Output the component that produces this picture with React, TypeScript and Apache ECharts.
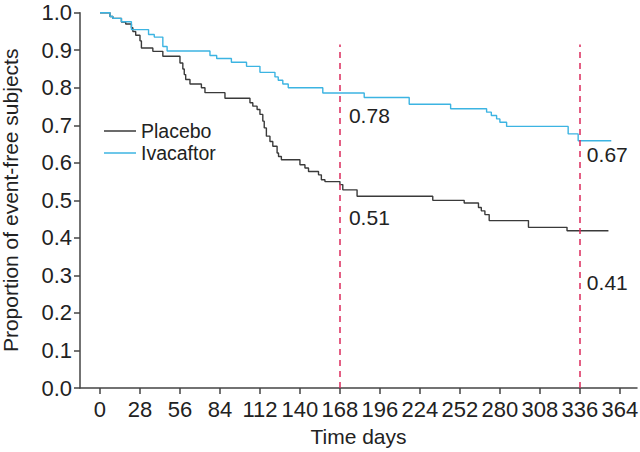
import React, { useEffect, useRef } from "react";
import * as echarts from "echarts";

const placeboDays = [0, 7, 9, 15, 18, 22, 23, 25, 28, 29, 37, 44, 56, 58, 59, 60, 63, 71, 73.5, 87.5, 105, 107, 110, 112, 114, 115, 116.5, 119, 121, 124, 125, 127, 140, 143.5, 146, 153, 155, 157.5, 168, 170, 180, 233, 255, 265, 267, 269.5, 272.5, 300, 327, 356];
const placeboValues = [1.0, 0.99, 0.985, 0.975, 0.97, 0.96, 0.95, 0.94, 0.925, 0.906, 0.897, 0.884, 0.866, 0.85, 0.835, 0.822, 0.81, 0.8, 0.787, 0.772, 0.76, 0.751, 0.742, 0.729, 0.711, 0.693, 0.671, 0.657, 0.644, 0.626, 0.617, 0.608, 0.595, 0.586, 0.577, 0.568, 0.555, 0.55, 0.542, 0.528, 0.511, 0.5, 0.493, 0.481, 0.472, 0.462, 0.446, 0.428, 0.419, 0.419];

const ivacaftorDays = [0, 7, 9, 15, 22, 34, 38, 44, 47, 77, 81.7, 92, 102.6, 112, 122.5, 124.8, 128, 131.8, 156, 185, 216.5, 245.5, 270.7, 274, 277.7, 280, 284.7, 327.8, 334.8, 358];
const ivacaftorValues = [1.0, 0.99, 0.985, 0.976, 0.955, 0.942, 0.935, 0.91, 0.898, 0.886, 0.878, 0.868, 0.857, 0.841, 0.829, 0.82, 0.81, 0.8, 0.786, 0.774, 0.756, 0.744, 0.735, 0.726, 0.717, 0.708, 0.697, 0.677, 0.659, 0.659];

const milestoneDays = [168, 336];
const ivacaftorMilestones = [0.78, 0.67];
const placeboMilestones = [0.51, 0.41];
const milestoneLineTop = 0.915;

const xTicks = [0, 28, 56, 84, 112, 140, 168, 196, 224, 252, 280, 308, 336, 364];

const FONT = "'Liberation Sans', Arial, sans-serif";

export default function App() {
  const ref = useRef<HTMLDivElement>(null);
  useEffect(() => {
    if (!ref.current) return;
    const chart = echarts.init(ref.current, undefined, { renderer: "svg" });
    const pts = (d: number[], v: number[]) => d.map((x, i) => [x, v[i]]);
    const labelStyle = { show: true, color: "#222", fontSize: 21, fontFamily: FONT, position: "right" as const, distance: 0 };
    chart.setOption({
      animation: false,
      backgroundColor: "#fff",
      textStyle: { fontFamily: FONT },
      grid: { left: 80, right: 3, top: 12.7, bottom: 64, containLabel: false, outerBoundsMode: "none" },
      legend: {
        orient: "vertical",
        left: 99,
        top: 116,
        icon: "rect",
        itemWidth: 32,
        itemHeight: 1.5,
        itemGap: 2,
        textStyle: { color: "#222", fontSize: 19.5, fontFamily: FONT },
        data: ["Placebo", "Ivacaftor"],
      },
      xAxis: {
        type: "value",
        min: -14,
        max: 376,
        name: "Time days",
        nameLocation: "middle",
        nameGap: 38,
        nameTextStyle: { color: "#222", fontSize: 21, fontFamily: FONT },
        axisLine: { show: true, onZero: false, lineStyle: { color: "#444", width: 1.5 } },
        axisTick: { show: true, length: 6, lineStyle: { color: "#444", width: 1.5 }, customValues: xTicks },
        axisLabel: { color: "#222", fontSize: 22, fontFamily: FONT, margin: 10, customValues: xTicks },
        splitLine: { show: false },
      },
      yAxis: {
        type: "value",
        min: 0,
        max: 1,
        interval: 0.1,
        name: "Proportion of event-free subjects",
        nameLocation: "middle",
        nameGap: 59,
        nameTextStyle: { color: "#222", fontSize: 21, fontFamily: FONT },
        axisLine: { show: true, onZero: false, lineStyle: { color: "#444", width: 1.5 } },
        axisTick: { show: true, length: 6, lineStyle: { color: "#444", width: 1.5 } },
        axisLabel: { color: "#222", fontSize: 22, fontFamily: FONT, margin: 8, formatter: (v: number) => v.toFixed(1) },
        splitLine: { show: false },
      },
      series: [
        {
          name: "Placebo",
          type: "line",
          step: "end",
          symbol: "none",
          data: pts(placeboDays, placeboValues),
          lineStyle: { color: "#3a3a3a", width: 1.4 },
          itemStyle: { color: "#3a3a3a" },
          markLine: {
            silent: true,
            symbol: "none",
            label: { show: false },
            lineStyle: { color: "#dc2a5c", width: 1.5, type: [6, 5] },
            data: milestoneDays.map((d) => [{ coord: [d, 0] }, { coord: [d, milestoneLineTop] }]),
          },
          markPoint: {
            symbol: "circle",
            symbolSize: 0,
            itemStyle: { color: "transparent" },
            data: milestoneDays.map((d, i) => ({
              coord: [d, placeboMilestones[i]],
              label: { ...labelStyle, formatter: placeboMilestones[i].toFixed(2), offset: i === 0 ? [9, 21] : [7, 48] },
            })),
          },
        },
        {
          name: "Ivacaftor",
          type: "line",
          step: "end",
          symbol: "none",
          data: pts(ivacaftorDays, ivacaftorValues),
          lineStyle: { color: "#3cb4e2", width: 1.4 },
          itemStyle: { color: "#3cb4e2" },
          markPoint: {
            symbol: "circle",
            symbolSize: 0,
            itemStyle: { color: "transparent" },
            data: milestoneDays.map((d, i) => ({
              coord: [d, ivacaftorMilestones[i]],
              label: { ...labelStyle, formatter: ivacaftorMilestones[i].toFixed(2), offset: i === 0 ? [9, 20] : [7, 18] },
            })),
          },
        },
      ],
    });
    return () => chart.dispose();
  }, []);
  return <div ref={ref} style={{ width: 640, height: 452, position: "fixed", left: 0, top: 0 }} />;
}
